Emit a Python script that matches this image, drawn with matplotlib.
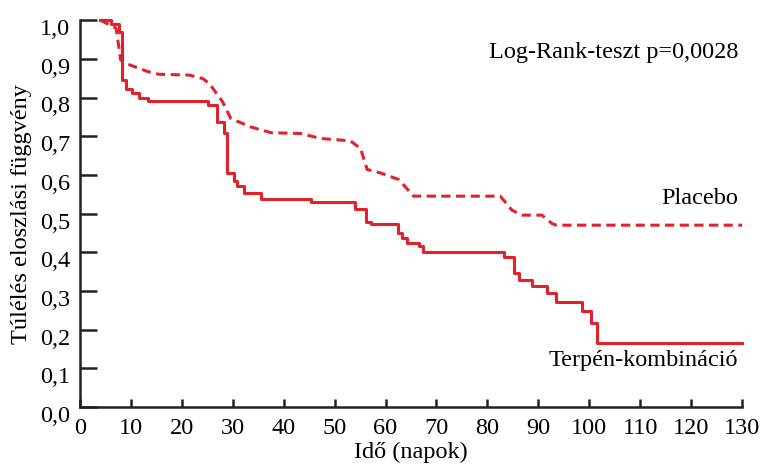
import numpy as np
import matplotlib
matplotlib.use("Agg")
from matplotlib import pyplot as plt
from matplotlib import transforms

plt.rcParams['font.family'] = ['Liberation Serif', 'DejaVu Serif']
plt.rcParams['font.size'] = 17.5

# Terpén-kombináció (step curve): time of each drop and survival after it
terpen_t = [4, 6.1, 7.6, 8.2, 9.1, 10.3, 11.5, 13.3, 25.2, 27.0, 28.2, 28.8, 30.3, 30.9, 32.2,
            35.5, 45.3, 54.1, 56.1, 57.1, 62.5, 63.3, 64.3, 66.5, 67.3, 83.3, 85.3, 86.3,
            88.8, 91.8, 93.5, 98.6, 100.4, 101.5, 130]
terpen_s = [1.0, 0.99, 0.97, 0.845, 0.821, 0.812, 0.799, 0.79, 0.78, 0.737, 0.709, 0.604,
            0.585, 0.571, 0.552, 0.537, 0.53, 0.513, 0.479, 0.473, 0.45, 0.437, 0.425, 0.417,
            0.401, 0.388, 0.347, 0.328, 0.313, 0.294, 0.272, 0.248, 0.216, 0.166, 0.166]

# Placebo (dashed, drawn smoothed)
placebo_t = [4, 7.1, 8.0, 9.0, 13.3, 15.5, 21.4, 24.1, 25.4, 28.0, 29.6, 33.5, 37.5, 43.3,
             47.3, 53.1, 55.1, 56.4, 59.0, 62.6, 65.5, 82.5, 83.5, 84.8, 86.8, 90.7, 92.7,
             93.6, 130]
placebo_s = [1.0, 0.979, 0.897, 0.888, 0.867, 0.86, 0.858, 0.849, 0.836, 0.789, 0.746, 0.724,
             0.709, 0.707, 0.694, 0.688, 0.668, 0.614, 0.605, 0.588, 0.545, 0.545, 0.53,
             0.509, 0.496, 0.496, 0.474, 0.47, 0.47]

xticks = list(range(0, 131, 10))
yticks = [i / 10 for i in range(11)]
ytick_labels = ["%.1f" % v for v in yticks]
ytick_labels = [s.replace(".", ",") for s in ytick_labels]

red = '#e2222b'
dark = '#222222'

fig = plt.figure(figsize=(7.63, 4.68), dpi=100)
ax = fig.add_axes([0.1048, 0.1303, 0.8677, 0.8267])

ax.step(terpen_t, terpen_s, where='post', color=red, lw=2.2, clip_on=False)
ax.plot(placebo_t, placebo_s, color=red, lw=2.2, dashes=(3.0, 1.8), clip_on=False)

ax.set_xlim(0, 130)
ax.set_ylim(0, 1.0)
ax.set_xticks(xticks)
ax.set_yticks(yticks)
ax.set_yticklabels(ytick_labels)

for side in ['top', 'right']:
    ax.spines[side].set_visible(False)
for side in ['left', 'bottom']:
    ax.spines[side].set_linewidth(1.8)
    ax.spines[side].set_color(dark)

ax.tick_params(axis='both', direction='in', width=1.8, color=dark, labelsize=17.5)
ax.tick_params(axis='y', length=12, pad=7)
ax.tick_params(axis='x', length=6, pad=8)

# y labels sit a little below their ticks in the original
shift = transforms.ScaledTranslation(0, -5 / 72, fig.dpi_scale_trans)
for lab in ax.get_yticklabels():
    lab.set_transform(lab.get_transform() + shift)

ax.set_xlabel('Idő (napok)', fontsize=17.5, labelpad=2)
ax.set_ylabel('Túlélés eloszlási függvény', fontsize=17.5, labelpad=6)

ax.text(0.994, 0.917, 'Log-Rank-teszt p=0,0028', transform=ax.transAxes,
        ha='right', va='center', fontsize=17.5)
ax.text(0.994, 0.54, 'Placebo', transform=ax.transAxes, ha='right', va='center',
        fontsize=17.5)
ax.text(0.994, 0.121, 'Terpén-kombináció', transform=ax.transAxes, ha='right',
        va='center', fontsize=17.5)

fig.savefig('out.png', dpi=100)
